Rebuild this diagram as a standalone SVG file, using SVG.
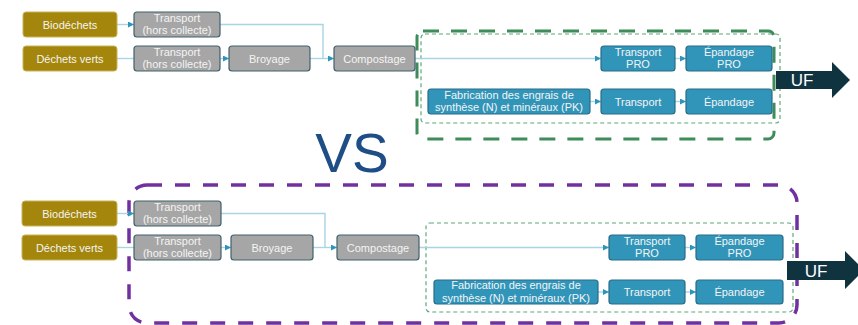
<svg xmlns="http://www.w3.org/2000/svg" width="858" height="325" viewBox="0 0 858 325">
<defs>
<marker id="arr" viewBox="0 0 10 10" refX="10" refY="5" markerWidth="6" markerHeight="6" markerUnits="userSpaceOnUse" orient="auto">
<path d="M0,0 L10,5 L0,10 z" fill="#2E94B9"/>
</marker>
<style>
text{font-family:"Liberation Sans",Arial,sans-serif;font-size:11px;fill:#F4F4F4;text-anchor:middle}
.olive rect{fill:#A3860B;stroke:#C9B35A;stroke-width:1}
.gray rect{fill:#A6A6A6;stroke:#41606E;stroke-width:1.2}
.blue rect{fill:#3195BA;stroke:#286D88;stroke-width:1.2}
.conn path{fill:none;stroke:#A8D4E4;stroke-width:1.4}
.conn path.a{marker-end:url(#arr)}
.gthick{fill:none;stroke:#3E8C5A;stroke-width:3;stroke-dasharray:16 12}
.gthin{fill:none;stroke:#5FA878;stroke-width:1.2;stroke-dasharray:4 3}
.purple{fill:none;stroke:#7030A0;stroke-width:3.5;stroke-dasharray:15 13}
.uf path{fill:#0F3440}
.uf text{font-size:17px;fill:#FFFFFF}
</style>
</defs>
<rect width="858" height="325" fill="#FFFFFF"/>

<!-- frames -->
<rect class="gthick" x="417" y="31" width="357" height="108" rx="6"/>
<rect class="gthin" x="421" y="34" width="359" height="89" rx="4"/>
<rect class="purple" x="129" y="185" width="668" height="138" rx="18"/>
<rect class="gthin" x="426" y="223" width="367" height="89" rx="4"/>

<!-- connectors -->
<g id="connectors" class="conn">
<path class="a" d="M117,24.5 H134"/>
<path d="M117,58.5 H134"/>
<path class="a" d="M220,58.5 H229"/>
<path d="M220,24.5 H323 V58.5"/>
<path class="a" d="M310,58.5 H334"/>
<path class="a" d="M415,58.5 H601"/>
<path class="a" d="M675,58.5 H686"/>
<path class="a" d="M590,101.5 H601"/>
<path class="a" d="M675,101.5 H686"/>

<path class="a" d="M117,213.5 H134"/>
<path d="M117,247.5 H134"/>
<path class="a" d="M221,247.5 H231"/>
<path d="M221,213.5 H325 V247.5"/>
<path class="a" d="M313,247.5 H337"/>
<path class="a" d="M419,247.5 H609"/>
<path class="a" d="M685,247.5 H696"/>
<path class="a" d="M598,292 H609"/>
<path class="a" d="M685,292 H696"/>
</g>

<!-- top scenario nodes -->
<g id="t-bio" class="olive"><rect x="23" y="12" width="94" height="25" rx="3"/><text x="70" y="28.5">Biodéchets</text></g>
<g id="t-dv" class="olive"><rect x="23" y="46" width="94" height="25" rx="3"/><text x="70" y="62.5">Déchets verts</text></g>
<g id="t-tr1" class="gray"><rect x="134" y="12" width="86" height="25" rx="3"/><text x="177" y="21.5">Transport</text><text x="177" y="34">(hors collecte)</text></g>
<g id="t-tr2" class="gray"><rect x="134" y="46" width="86" height="25" rx="3"/><text x="177" y="55.5">Transport</text><text x="177" y="68">(hors collecte)</text></g>
<g id="t-broy" class="gray"><rect x="229" y="46" width="81" height="25" rx="3"/><text x="269.5" y="62.5">Broyage</text></g>
<g id="t-comp" class="gray"><rect x="334" y="46" width="81" height="25" rx="3"/><text x="374.5" y="62.5">Compostage</text></g>
<g id="t-trpro" class="blue"><rect x="601" y="46" width="74" height="25" rx="3"/><text x="638" y="55.5">Transport</text><text x="638" y="68">PRO</text></g>
<g id="t-eppro" class="blue"><rect x="686" y="46" width="86" height="25" rx="3"/><text x="729" y="55.5">Épandage</text><text x="729" y="68">PRO</text></g>
<g id="t-fab" class="blue"><rect x="428" y="89" width="162" height="25" rx="3"/><text x="509" y="98.5">Fabrication des engrais de</text><text x="509" y="111">synthèse (N) et minéraux  (PK)</text></g>
<g id="t-tr" class="blue"><rect x="601" y="89" width="74" height="25" rx="3"/><text x="638" y="105.5">Transport</text></g>
<g id="t-ep" class="blue"><rect x="686" y="89" width="86" height="25" rx="3"/><text x="729" y="105.5">Épandage</text></g>
<g id="t-uf" class="uf"><path d="M776,71 H832 V62 L850,80 L832,98 V89 H776 z"/><text x="802" y="86">UF</text></g>

<!-- VS -->
<text x="352" y="172" style="font-size:55px;fill:#1F4E87">VS</text>

<!-- bottom scenario nodes -->
<g id="b-bio" class="olive"><rect x="22" y="201" width="95" height="25" rx="3"/><text x="69.5" y="217.5">Biodéchets</text></g>
<g id="b-dv" class="olive"><rect x="22" y="235" width="95" height="25" rx="3"/><text x="69.5" y="251.5">Déchets verts</text></g>
<g id="b-tr1" class="gray"><rect x="134" y="201" width="87" height="25" rx="3"/><text x="177.5" y="210.5">Transport</text><text x="177.5" y="223">(hors collecte)</text></g>
<g id="b-tr2" class="gray"><rect x="134" y="235" width="87" height="25" rx="3"/><text x="177.5" y="244.5">Transport</text><text x="177.5" y="257">(hors collecte)</text></g>
<g id="b-broy" class="gray"><rect x="231" y="235" width="82" height="25" rx="3"/><text x="272" y="251.5">Broyage</text></g>
<g id="b-comp" class="gray"><rect x="337" y="235" width="82" height="25" rx="3"/><text x="378" y="251.5">Compostage</text></g>
<g id="b-trpro" class="blue"><rect x="609" y="235" width="76" height="25" rx="3"/><text x="647" y="244.5">Transport</text><text x="647" y="257">PRO</text></g>
<g id="b-eppro" class="blue"><rect x="696" y="235" width="87" height="25" rx="3"/><text x="739.5" y="244.5">Épandage</text><text x="739.5" y="257">PRO</text></g>
<g id="b-fab" class="blue"><rect x="434" y="280" width="164" height="24" rx="3"/><text x="516" y="289">Fabrication des engrais de</text><text x="516" y="301.5">synthèse (N) et minéraux  (PK)</text></g>
<g id="b-tr" class="blue"><rect x="609" y="280" width="76" height="24" rx="3"/><text x="647" y="296">Transport</text></g>
<g id="b-ep" class="blue"><rect x="696" y="280" width="87" height="24" rx="3"/><text x="739.5" y="296">Épandage</text></g>
<g id="b-uf" class="uf"><path d="M787,261 H845 V251 L864,270 L845,289 V280 H787 z"/><text x="816" y="276.5">UF</text></g>
</svg>
